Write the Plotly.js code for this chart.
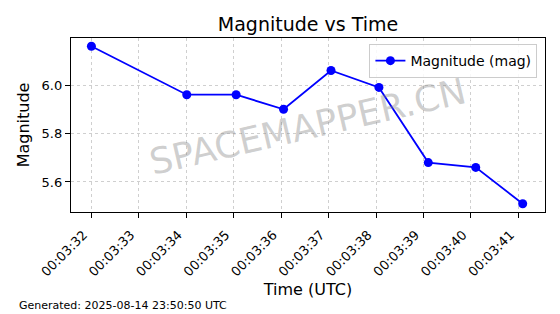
<!DOCTYPE html>
<html>
<head>
<meta charset="utf-8">
<script src="https://cdn.plot.ly/plotly-3.0.1.min.js"></script>
<style>html,body{margin:0;padding:0;background:#fff;}#chart{width:560px;height:314px;}</style>
</head>
<body>
<div id="chart"></div>
<script>
const times = [
  "2025-08-14 00:03:32.00",
  "2025-08-14 00:03:34.01",
  "2025-08-14 00:03:35.05",
  "2025-08-14 00:03:36.05",
  "2025-08-14 00:03:37.05",
  "2025-08-14 00:03:38.06",
  "2025-08-14 00:03:39.10",
  "2025-08-14 00:03:40.10",
  "2025-08-14 00:03:41.09"
];
const magnitudes = [6.16, 5.96, 5.96, 5.90, 6.06, 5.99, 5.68, 5.66, 5.51];
const seriesName = "Magnitude (mag)";
const xRange = ["2025-08-14 00:03:31.57", "2025-08-14 00:03:41.56"];
const yRange = [5.476, 6.194];
const generatedText = "Generated: 2025-08-14 23:50:50 UTC";
const watermark = "SPACEMAPPER.CN";

const font = "DejaVu Sans, sans-serif";

const trace = {
  x: times,
  y: magnitudes,
  type: "scatter",
  mode: "lines+markers",
  name: seriesName,
  line: {color: "#0000ff", width: 1.8},
  marker: {color: "#0000ff", size: 9}
};

const layout = {
  width: 560,
  height: 314,
  margin: {l: 71, r: 14.5, t: 38, b: 102},
  paper_bgcolor: "#ffffff",
  plot_bgcolor: "#ffffff",
  font: {family: font, color: "#000000", size: 13},
  showlegend: true,
  title: {text: "Magnitude vs Time", font: {size: 19, family: font, color: "#000"}, x: 0.55, xanchor: "center", y: 0.943, yanchor: "top"},
  xaxis: {
    type: "date",
    range: xRange,
    dtick: 1000,
    tick0: "2025-08-14 00:03:32",
    tickformat: "%H:%M:%S",
    tickangle: -45,
    ticks: "outside",
    ticklen: 5,
    tickcolor: "#000",
    tickfont: {size: 13, family: font},
    ticklabelstandoff: 4,
    ticklabelshift: -8,
    showline: true,
    linecolor: "#000",
    linewidth: 1.2,
    mirror: true,
    showgrid: true,
    gridcolor: "#cfcfcf",
    griddash: "3px,3px",
    gridwidth: 1,
    zeroline: false,
    title: {text: "Time (UTC)", font: {size: 16, family: font}, standoff: 5}
  },
  yaxis: {
    range: yRange,
    dtick: 0.2,
    tick0: 5.6,
    tickformat: ".1f",
    ticks: "outside",
    ticklen: 5,
    tickcolor: "#000",
    tickfont: {size: 13, family: font},
    showline: true,
    linecolor: "#000",
    linewidth: 1.2,
    mirror: true,
    showgrid: true,
    gridcolor: "#cfcfcf",
    griddash: "3px,3px",
    gridwidth: 1,
    zeroline: false,
    title: {text: "Magnitude", font: {size: 16, family: font}, standoff: 8}
  },
  legend: {
    x: 0.984, xanchor: "right",
    y: 0.965, yanchor: "top",
    bgcolor: "rgba(255,255,255,0.85)",
    bordercolor: "#cccccc",
    borderwidth: 1,
    font: {size: 14, family: font},
    itemwidth: 30
  },
  annotations: [
    {
      text: watermark,
      xref: "paper", yref: "paper",
      x: (308 - 71) / 474.5, y: (212 - 126) / 174,
      xanchor: "center", yanchor: "middle",
      showarrow: false,
      textangle: -13,
      font: {size: 36, family: font, color: "rgba(128,128,128,0.38)"}
    },
    {
      text: generatedText,
      xref: "paper", yref: "paper",
      x: (17 - 71) / 474.5, y: (212 - 314) / 174,
      xanchor: "left", yanchor: "bottom",
      showarrow: false,
      font: {size: 11, family: font, color: "#000"}
    }
  ]
};

Plotly.newPlot("chart", [trace], layout, {displayModeBar: false, staticPlot: true});
</script>
</body>
</html>
